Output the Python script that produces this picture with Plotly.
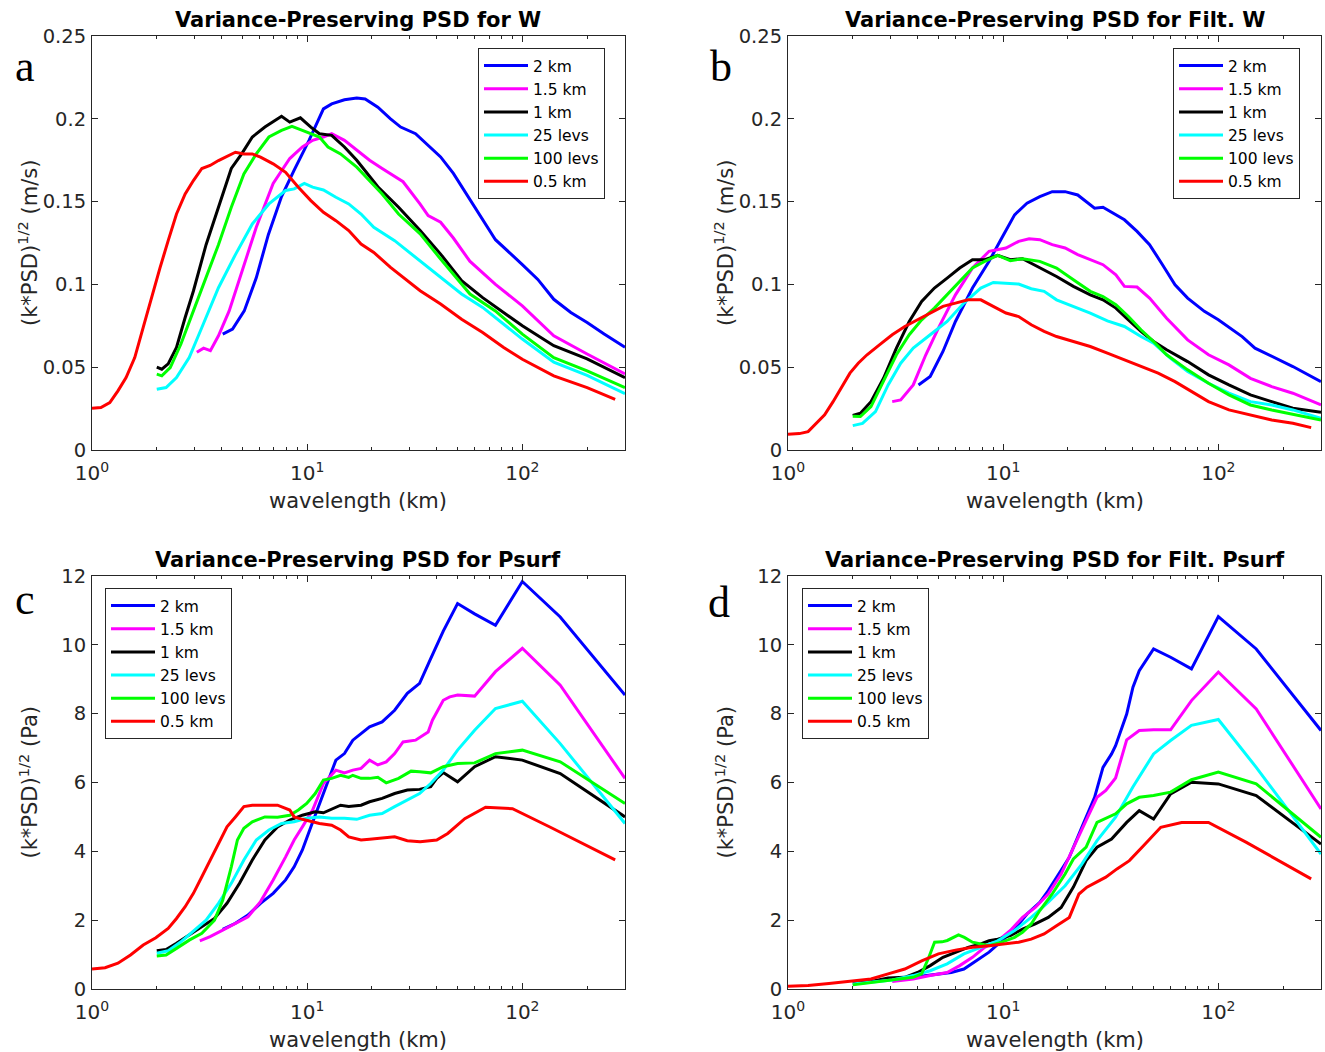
import plotly.graph_objects as go

W = 1325
H = 1052

# ---------------- data ----------------
series_names = ["2 km", "1.5 km", "1 km", "25 levs", "100 levs", "0.5 km"]
series_colors = ["#0000FF", "#FF00FF", "#000000", "#00FFFF", "#00FF00", "#FF0000"]

panel_titles = ["Variance-Preserving PSD for W", "Variance-Preserving PSD for Filt. W",
                "Variance-Preserving PSD for Psurf", "Variance-Preserving PSD for Filt. Psurf"]
panel_letters = ["a", "b", "c", "d"]
x_tick_vals = [1, 10, 100]
x_tick_text = ["10<sup>0</sup>", "10<sup>1</sup>", "10<sup>2</sup>"]
x_minor_vals = [2, 3, 4, 5, 6, 7, 8, 9, 20, 30, 40, 50, 60, 70, 80, 90, 200, 300]

# Panel a : W
a_blue_x = [4.05, 4.5, 5.1, 5.8, 6.6, 7.6, 8.7, 10.2, 11.9, 13.0, 14.9, 17.0, 18.6, 21.3, 24.4, 27.2, 31.9, 36.5, 41.7, 47.8, 54.6, 62.6, 75, 100, 118, 140, 168, 200, 240, 300]
a_blue_y = [0.070, 0.073, 0.084, 0.104, 0.130, 0.153, 0.169, 0.187, 0.206, 0.209, 0.2115, 0.2125, 0.212, 0.207, 0.200, 0.195, 0.191, 0.184, 0.177, 0.167, 0.155, 0.1425, 0.127, 0.112, 0.103, 0.091, 0.083, 0.077, 0.070, 0.062]
a_mag_x = [3.07, 3.3, 3.55, 3.87, 4.34, 4.97, 5.8, 6.95, 8.3, 9.5, 10.6, 11.9, 13.0, 14.9, 17.0, 19.5, 22.3, 27.9, 33.5, 36.5, 41.7, 47.8, 57, 75, 100, 140, 200, 300]
a_mag_y = [0.059, 0.0615, 0.060, 0.069, 0.084, 0.108, 0.1345, 0.161, 0.176, 0.183, 0.187, 0.189, 0.191, 0.187, 0.181, 0.175, 0.170, 0.162, 0.1485, 0.1415, 0.1375, 0.128, 0.114, 0.100, 0.087, 0.069, 0.058, 0.046]
a_blk_x = [2.0, 2.11, 2.26, 2.47, 2.71, 2.96, 3.39, 3.87, 4.44, 4.97, 5.56, 6.36, 6.95, 7.6, 8.3, 9.3, 10.4, 11.4, 13.0, 14.9, 17.0, 21.3, 26.6, 33.5, 41.7, 52.2, 65.4, 100, 140, 200, 300]
a_blk_y = [0.050, 0.0488, 0.052, 0.062, 0.080, 0.096, 0.124, 0.1466, 0.170, 0.179, 0.189, 0.195, 0.198, 0.2015, 0.198, 0.2006, 0.195, 0.191, 0.190, 0.183, 0.175, 0.159, 0.1466, 0.1325, 0.1183, 0.1022, 0.092, 0.075, 0.063, 0.055, 0.0437]
a_cyn_x = [2.0, 2.21, 2.47, 2.83, 3.24, 3.87, 4.64, 5.56, 6.64, 7.94, 8.7, 9.7, 10.6, 11.9, 13.6, 15.6, 17.8, 20.4, 25.5, 33.5, 41.7, 52.2, 65.4, 100, 140, 200, 300]
a_cyn_y = [0.0367, 0.0377, 0.0437, 0.0558, 0.074, 0.098, 0.118, 0.1365, 0.1486, 0.1567, 0.1577, 0.161, 0.1587, 0.157, 0.1526, 0.1486, 0.1425, 0.1345, 0.1264, 0.1143, 0.1042, 0.0942, 0.0861, 0.067, 0.053, 0.045, 0.034]
a_grn_x = [2.0, 2.11, 2.31, 2.59, 2.96, 3.39, 3.87, 4.44, 5.08, 5.8, 6.64, 7.6, 8.5, 9.5, 10.4, 11.4, 12.5, 14.3, 17.0, 19.5, 22.3, 26.6, 33.5, 41.7, 47.8, 57.1, 74.9, 100, 140, 200, 300]
a_grn_y = [0.0458, 0.0448, 0.0498, 0.064, 0.084, 0.104, 0.124, 0.1466, 0.1667, 0.1788, 0.189, 0.193, 0.1954, 0.193, 0.191, 0.189, 0.183, 0.1788, 0.1708, 0.1627, 0.1546, 0.1425, 0.1305, 0.1153, 0.1062, 0.0942, 0.084, 0.070, 0.0558, 0.0478, 0.0377]
a_red_x = [1.0, 1.10, 1.21, 1.32, 1.44, 1.58, 1.73, 1.89, 2.07, 2.26, 2.47, 2.71, 2.96, 3.24, 3.54, 3.87, 4.24, 4.64, 5.08, 5.56, 6.07, 6.95, 7.94, 9.1, 10.4, 11.9, 13.6, 15.6, 17.8, 20.4, 24.4, 29.2, 33.5, 41.7, 52.2, 65.4, 81.9, 100, 140, 200, 270]
a_red_y = [0.0252, 0.0256, 0.0286, 0.0357, 0.0437, 0.0558, 0.074, 0.092, 0.110, 0.1264, 0.1425, 0.1546, 0.1627, 0.170, 0.1718, 0.1748, 0.1772, 0.1798, 0.1788, 0.1788, 0.1768, 0.1728, 0.1677, 0.1587, 0.1506, 0.1435, 0.1385, 0.1325, 0.1244, 0.1193, 0.1103, 0.1022, 0.0962, 0.0881, 0.079, 0.071, 0.0619, 0.0548, 0.0448, 0.0377, 0.0306]

# Panel b : Filt. W
b_blue_x = [4.04, 4.58, 5.25, 6.0, 7.2, 8.6, 9.85, 11.3, 12.9, 14.8, 16.9, 19.4, 22.2, 26.6, 29.1, 33.4, 36.6, 41.9, 47.9, 55.0, 62.9, 72.0, 86.1, 100, 129, 148, 177, 222, 300]
b_blue_y = [0.0393, 0.0444, 0.0595, 0.0776, 0.0978, 0.114, 0.128, 0.142, 0.149, 0.153, 0.156, 0.156, 0.154, 0.146, 0.1466, 0.142, 0.139, 0.132, 0.124, 0.1119, 0.0998, 0.0917, 0.0837, 0.0786, 0.0685, 0.0615, 0.0565, 0.0504, 0.0413]
b_mag_x = [3.05, 3.34, 3.82, 4.37, 5.0, 6.0, 7.2, 8.6, 10.3, 11.8, 13.2, 14.8, 16.9, 19.4, 22.2, 25.4, 29.1, 33.4, 36.6, 41.9, 47.9, 57.5, 72.0, 90.0, 112, 141, 177, 222, 300]
b_mag_y = [0.0292, 0.0302, 0.0393, 0.0575, 0.0736, 0.0937, 0.1099, 0.120, 0.122, 0.126, 0.1276, 0.127, 0.124, 0.122, 0.118, 0.115, 0.1119, 0.1058, 0.0988, 0.0984, 0.0917, 0.0796, 0.0665, 0.0575, 0.0514, 0.0433, 0.0383, 0.0343, 0.0272]
b_blk_x = [2.0, 2.17, 2.43, 2.78, 3.19, 3.66, 4.18, 4.79, 5.49, 6.28, 7.2, 8.2, 9.43, 10.8, 12.3, 14.8, 17.7, 21.2, 25.4, 29.1, 33.4, 38.2, 43.7, 50.0, 57.5, 72.0, 90.0, 112, 141, 177, 222, 300]
b_blk_y = [0.0208, 0.0222, 0.0292, 0.0433, 0.0615, 0.0776, 0.0897, 0.0978, 0.1038, 0.1099, 0.1149, 0.1149, 0.1175, 0.1149, 0.1155, 0.1099, 0.1048, 0.0988, 0.0937, 0.0907, 0.0857, 0.0786, 0.0716, 0.0655, 0.0605, 0.0534, 0.0454, 0.0393, 0.0333, 0.0292, 0.0252, 0.0228]
b_cyn_x = [2.0, 2.22, 2.55, 2.92, 3.34, 3.82, 4.58, 5.49, 6.57, 7.87, 9.0, 10.3, 11.8, 13.5, 15.5, 17.7, 21.2, 25.4, 30.5, 36.6, 43.7, 50.0, 60.0, 72.0, 90.0, 112, 141, 177, 222, 300]
b_cyn_y = [0.0147, 0.0161, 0.0232, 0.0393, 0.0524, 0.0615, 0.0696, 0.0776, 0.0887, 0.0978, 0.1012, 0.1008, 0.1002, 0.0974, 0.0958, 0.0907, 0.0867, 0.0827, 0.078, 0.0746, 0.0685, 0.0645, 0.0554, 0.0474, 0.0403, 0.0343, 0.0292, 0.0272, 0.0242, 0.0192]
b_grn_x = [2.0, 2.17, 2.43, 2.78, 3.19, 3.66, 4.18, 4.79, 5.49, 6.28, 7.2, 8.2, 9.43, 10.8, 12.3, 14.8, 17.7, 21.2, 25.4, 29.1, 33.4, 38.2, 43.7, 50.0, 57.5, 72.0, 90.0, 112, 141, 177, 222, 300]
b_grn_y = [0.0204, 0.0202, 0.0262, 0.0413, 0.0575, 0.0696, 0.0786, 0.0857, 0.0937, 0.1018, 0.1099, 0.1139, 0.1175, 0.1143, 0.1155, 0.1139, 0.1099, 0.1028, 0.0958, 0.0927, 0.0877, 0.0806, 0.0726, 0.0655, 0.0575, 0.0484, 0.0403, 0.0333, 0.0272, 0.0242, 0.0216, 0.0181]
b_red_x = [1.0, 1.13, 1.24, 1.35, 1.48, 1.62, 1.77, 1.94, 2.12, 2.33, 2.66, 3.05, 3.49, 4.0, 4.58, 5.25, 6.0, 6.87, 7.87, 9.0, 10.3, 11.8, 13.5, 15.5, 17.7, 21.2, 25.4, 30.5, 36.6, 43.7, 52.5, 62.9, 75.5, 90.0, 112, 141, 177, 222, 270]
b_red_y = [0.0095, 0.0099, 0.0111, 0.0161, 0.0212, 0.0292, 0.0373, 0.0464, 0.0524, 0.0575, 0.0635, 0.0696, 0.0746, 0.0786, 0.0827, 0.0867, 0.0887, 0.0907, 0.0907, 0.0867, 0.0827, 0.0806, 0.0756, 0.0716, 0.0685, 0.0655, 0.0625, 0.0585, 0.0544, 0.0504, 0.0464, 0.0413, 0.0353, 0.0292, 0.0242, 0.0212, 0.0181, 0.0161, 0.0135]

# Panel c : Psurf
c_blue_x = [4.05, 4.64, 5.31, 6.07, 6.95, 7.94, 8.7, 9.5, 10.4, 11.4, 12.5, 13.6, 14.9, 16.3, 17.8, 19.5, 22.3, 25.5, 29.2, 33.3, 37.5, 42.9, 50, 60, 75, 100, 150, 300]
c_blue_y = [1.73, 1.91, 2.15, 2.49, 2.78, 3.17, 3.55, 4.04, 4.71, 5.39, 6.07, 6.65, 6.84, 7.23, 7.42, 7.62, 7.76, 8.10, 8.59, 8.88, 9.60, 10.40, 11.20, 10.90, 10.57, 11.84, 10.81, 8.54]
c_mag_x = [3.17, 3.54, 4.05, 4.64, 5.31, 6.07, 6.95, 7.94, 8.7, 9.5, 10.6, 11.9, 13.6, 14.9, 16.3, 17.8, 19.5, 21.3, 23.3, 25.5, 27.9, 31.9, 36.5, 38.2, 42.9, 46, 50, 60, 75, 100, 150, 300]
c_mag_y = [1.40, 1.52, 1.71, 1.91, 2.10, 2.54, 3.17, 3.84, 4.33, 4.71, 5.20, 5.97, 6.36, 6.28, 6.36, 6.41, 6.65, 6.51, 6.60, 6.84, 7.18, 7.23, 7.47, 7.81, 8.39, 8.49, 8.54, 8.51, 9.22, 9.90, 8.83, 6.12]
c_blk_x = [2.0, 2.21, 2.47, 2.83, 3.24, 3.71, 4.24, 4.85, 5.56, 6.36, 7.28, 8.3, 9.5, 10.9, 11.9, 13.0, 14.3, 15.6, 17.8, 19.5, 22.3, 25.5, 29.2, 33.3, 37.5, 40, 42.9, 50, 60, 75, 100, 150, 300]
c_blk_y = [1.11, 1.15, 1.33, 1.57, 1.81, 2.05, 2.49, 3.07, 3.75, 4.33, 4.71, 4.91, 5.05, 5.15, 5.12, 5.22, 5.34, 5.30, 5.34, 5.44, 5.54, 5.68, 5.78, 5.80, 5.88, 6.12, 6.29, 6.02, 6.46, 6.75, 6.65, 6.26, 5.00]
c_cyn_x = [2.0, 2.26, 2.59, 2.96, 3.39, 3.87, 4.44, 5.08, 5.8, 6.64, 7.6, 8.7, 9.95, 11.4, 13.0, 14.9, 17.0, 19.5, 22.3, 25.5, 29.2, 33.3, 37.5, 42.9, 50, 60, 75, 100, 150, 300]
c_cyn_y = [1.04, 1.11, 1.37, 1.67, 2.00, 2.49, 3.07, 3.75, 4.33, 4.62, 4.81, 4.86, 4.96, 5.00, 4.96, 4.96, 4.93, 5.05, 5.10, 5.30, 5.49, 5.68, 5.97, 6.36, 6.94, 7.52, 8.15, 8.36, 7.13, 4.81]
c_grn_x = [2.0, 2.21, 2.47, 2.83, 3.24, 3.71, 4.05, 4.44, 4.74, 5.08, 5.56, 6.36, 7.28, 8.3, 9.1, 9.95, 10.9, 11.9, 13.0, 14.3, 15.6, 16.3, 17.8, 19.5, 21.3, 23.3, 26.6, 30.4, 33.3, 37.5, 42.9, 50, 60, 75, 100, 150, 300]
c_grn_y = [0.96, 0.99, 1.18, 1.42, 1.62, 2.00, 2.58, 3.55, 4.33, 4.67, 4.86, 5.00, 4.99, 5.05, 5.20, 5.39, 5.68, 6.07, 6.12, 6.21, 6.15, 6.21, 6.12, 6.12, 6.15, 5.99, 6.12, 6.33, 6.31, 6.28, 6.46, 6.55, 6.57, 6.84, 6.94, 6.60, 5.39]
c_red_x = [1.0, 1.15, 1.32, 1.51, 1.73, 1.98, 2.26, 2.47, 2.71, 2.96, 3.24, 3.54, 3.87, 4.24, 4.64, 5.08, 5.56, 6.36, 7.28, 8.3, 8.7, 9.5, 11.4, 13.0, 14.3, 15.6, 17.8, 19.5, 22.3, 25.5, 29.2, 33.5, 40, 45, 54, 67.5, 90, 135, 270]
c_red_y = [0.58, 0.62, 0.75, 0.99, 1.28, 1.49, 1.76, 2.05, 2.39, 2.78, 3.26, 3.75, 4.23, 4.71, 5.00, 5.30, 5.34, 5.34, 5.34, 5.20, 5.00, 4.93, 4.81, 4.76, 4.62, 4.42, 4.33, 4.35, 4.38, 4.42, 4.31, 4.28, 4.33, 4.52, 4.95, 5.28, 5.24, 4.70, 3.75]

# Panel d : Filt. Psurf
d_blue_x = [4.04, 4.79, 5.74, 6.57, 7.53, 8.6, 9.85, 11.3, 12.9, 14.8, 16.2, 18.6, 20.3, 23.2, 26.6, 29.1, 31.9, 33.3, 37.5, 40.1, 42.9, 50, 60, 75, 100, 150, 300]
d_blue_y = [0.36, 0.42, 0.48, 0.58, 0.82, 1.07, 1.40, 1.74, 2.18, 2.52, 2.86, 3.44, 3.83, 4.70, 5.57, 6.44, 6.83, 7.07, 7.99, 8.77, 9.25, 9.88, 9.64, 9.30, 10.82, 9.88, 7.51]
d_mag_x = [3.05, 3.82, 4.58, 5.49, 6.28, 7.2, 8.2, 9.43, 10.8, 12.3, 14.1, 16.2, 18.6, 21.2, 24.3, 27.3, 30.0, 33.3, 37.5, 42.9, 50, 60, 75, 100, 150, 300]
d_mag_y = [0.22, 0.29, 0.39, 0.48, 0.68, 0.92, 1.21, 1.40, 1.70, 2.08, 2.37, 2.76, 3.34, 4.12, 4.90, 5.57, 5.77, 6.13, 7.24, 7.51, 7.53, 7.53, 8.38, 9.21, 8.14, 5.23]
d_blk_x = [2.0, 2.43, 2.92, 3.49, 4.0, 4.58, 5.25, 6.0, 6.87, 7.87, 8.6, 9.43, 10.8, 12.3, 14.1, 16.2, 18.6, 21.2, 24.3, 27.3, 31.9, 37.5, 42.9, 50, 60, 75, 100, 150, 300]
d_blk_y = [0.16, 0.22, 0.32, 0.34, 0.48, 0.68, 0.92, 1.07, 1.21, 1.31, 1.40, 1.45, 1.55, 1.74, 1.89, 2.08, 2.37, 2.96, 3.73, 4.12, 4.36, 4.84, 5.18, 4.94, 5.67, 6.01, 5.96, 5.62, 4.21]
d_cyn_x = [2.0, 2.43, 3.05, 3.82, 4.58, 5.49, 6.57, 7.87, 9.43, 11.3, 13.5, 16.2, 19.4, 23.2, 27.3, 33.3, 40.0, 50, 60, 75, 100, 150, 300]
d_cyn_y = [0.145, 0.19, 0.26, 0.39, 0.53, 0.73, 1.02, 1.21, 1.40, 1.70, 2.08, 2.52, 3.00, 3.63, 4.31, 4.99, 5.86, 6.83, 7.22, 7.66, 7.83, 6.44, 3.92]
d_grn_x = [2.0, 2.43, 3.05, 3.82, 4.18, 4.5, 4.8, 5.2, 5.5, 5.9, 6.2, 6.6, 7.2, 7.87, 8.6, 9.85, 11.3, 12.3, 13.5, 14.8, 16.9, 19.4, 21.2, 24.3, 27.3, 33.3, 37.5, 42.9, 50, 60, 75, 100, 150, 300]
d_grn_y = [0.12, 0.19, 0.26, 0.34, 0.44, 0.90, 1.36, 1.37, 1.41, 1.50, 1.57, 1.50, 1.36, 1.31, 1.26, 1.36, 1.50, 1.65, 1.89, 2.28, 2.76, 3.34, 3.78, 4.12, 4.84, 5.09, 5.38, 5.57, 5.62, 5.72, 6.08, 6.30, 5.96, 4.41]
d_red_x = [1.0, 1.24, 1.55, 1.94, 2.43, 2.92, 3.49, 4.18, 5.0, 6.0, 7.2, 8.6, 10.3, 11.8, 13.5, 15.5, 17.7, 20.3, 22.5, 24.5, 27, 30, 33.8, 38.6, 45, 54, 67.5, 90, 135, 270]
d_red_y = [0.08, 0.10, 0.16, 0.22, 0.29, 0.44, 0.58, 0.82, 1.02, 1.13, 1.21, 1.26, 1.31, 1.36, 1.45, 1.60, 1.84, 2.08, 2.76, 2.96, 3.10, 3.25, 3.49, 3.73, 4.17, 4.70, 4.84, 4.84, 4.26, 3.20]

panel_data = [
    [(a_blue_x, a_blue_y), (a_mag_x, a_mag_y), (a_blk_x, a_blk_y), (a_cyn_x, a_cyn_y), (a_grn_x, a_grn_y), (a_red_x, a_red_y)],
    [(b_blue_x, b_blue_y), (b_mag_x, b_mag_y), (b_blk_x, b_blk_y), (b_cyn_x, b_cyn_y), (b_grn_x, b_grn_y), (b_red_x, b_red_y)],
    [(c_blue_x, c_blue_y), (c_mag_x, c_mag_y), (c_blk_x, c_blk_y), (c_cyn_x, c_cyn_y), (c_grn_x, c_grn_y), (c_red_x, c_red_y)],
    [(d_blue_x, d_blue_y), (d_mag_x, d_mag_y), (d_blk_x, d_blk_y), (d_cyn_x, d_cyn_y), (d_grn_x, d_grn_y), (d_red_x, d_red_y)],
]
y_ranges = [[0, 0.25], [0, 0.25], [0, 12], [0, 12]]
y_dticks = [0.05, 0.05, 2, 2]
y_titles = ["(k*PSD)<sup>1/2</sup> (m/s)", "(k*PSD)<sup>1/2</sup> (m/s)",
            "(k*PSD)<sup>1/2</sup> (Pa)", "(k*PSD)<sup>1/2</sup> (Pa)"]

# ---------------- layout geometry (pixels) ----------------
px_left = [92, 788, 92, 788]
px_right = [625, 1321, 625, 1321]
px_top = [36, 36, 576, 576]
px_bot = [450, 450, 989, 989]
legend_px = [(478, 48), (1173, 48), (105, 588), (802, 588)]
letter_px = [(25, 67), (721, 67), (25, 599), (719, 602)]

FONT = "DejaVu Sans"
AX = "#262626"

fig = go.Figure()
layout = dict(
    width=W, height=H, margin=dict(l=0, r=0, t=0, b=0, autoexpand=False),
    paper_bgcolor="white", plot_bgcolor="white",
    font=dict(family=FONT, color=AX, size=17),
    annotations=[],
)

for i in range(4):
    sfx = "" if i == 0 else str(i + 1)
    xa = "xaxis" + sfx
    ya = "yaxis" + sfx
    leg = "legend" + sfx
    for j in range(6):
        xs, ys = panel_data[i][j]
        fig.add_trace(go.Scatter(
            x=xs, y=ys, mode="lines", name=series_names[j],
            line=dict(color=series_colors[j], width=3),
            xaxis="x" + sfx, yaxis="y" + sfx, legend=leg, showlegend=True,
        ))
    x0 = px_left[i] / W
    x1 = px_right[i] / W
    y1 = 1 - px_top[i] / H
    y0 = 1 - px_bot[i] / H
    layout[xa] = dict(
        type="log", domain=[x0, x1], range=[0, 2.4771], anchor="y" + sfx,
        automargin=False,
        tickmode="array", tickvals=x_tick_vals, ticktext=x_tick_text,
        ticks="inside", ticklen=6, tickcolor=AX, showline=True, linecolor=AX,
        linewidth=1, mirror="ticks", showgrid=False, zeroline=False,
        ticklabelstandoff=5,
        tickfont=dict(size=20, family=FONT, color=AX),
        minor=dict(tickmode="array", tickvals=x_minor_vals, ticks="inside", ticklen=3, tickcolor=AX),
    )
    layout[ya] = dict(
        domain=[y0, y1], range=y_ranges[i], anchor="x" + sfx,
        automargin=False,
        dtick=y_dticks[i], tick0=0, ticks="inside", ticklen=6, tickcolor=AX,
        showline=True, linecolor=AX, linewidth=1, mirror="ticks",
        showgrid=False, zeroline=False,
        ticklabelstandoff=1,
        tickfont=dict(size=19.5, family=FONT, color=AX),
    )
    lx, ly = legend_px[i]
    layout[leg] = dict(
        x=lx / W, y=1 - ly / H, xref="paper", yref="paper", xanchor="left", yanchor="top",
        bgcolor="white", bordercolor=AX, borderwidth=1,
        font=dict(size=15.5, family=FONT, color="#000000"),
        itemwidth=44, tracegroupgap=0, traceorder="normal",
    )
    cx = (px_left[i] + px_right[i]) / 2 / W
    layout["annotations"].append(dict(
        text="<b>" + panel_titles[i] + "</b>", x=cx, y=1 - (px_top[i] - 16) / H,
        xref="paper", yref="paper", xanchor="center", yanchor="middle", showarrow=False,
        font=dict(size=21, family=FONT, color="#000000"),
    ))
    layout["annotations"].append(dict(
        text="wavelength (km)", x=cx, y=1 - (px_bot[i] + 51) / H,
        xref="paper", yref="paper", xanchor="center", yanchor="middle", showarrow=False,
        font=dict(size=21, family=FONT, color=AX),
    ))
    layout["annotations"].append(dict(
        text=y_titles[i], x=(px_left[i] - 64) / W, y=1 - (px_top[i] + px_bot[i]) / 2 / H,
        xref="paper", yref="paper", xanchor="center", yanchor="middle", showarrow=False,
        textangle=-90, font=dict(size=21, family=FONT, color=AX),
    ))
    lx2, ly2 = letter_px[i]
    layout["annotations"].append(dict(
        text=panel_letters[i], x=lx2 / W, y=1 - ly2 / H,
        xref="paper", yref="paper", xanchor="center", yanchor="middle", showarrow=False,
        font=dict(size=44, family="Liberation Serif", color="#000000"),
    ))

fig.update_layout(**layout)
fig.write_html("out.html")
